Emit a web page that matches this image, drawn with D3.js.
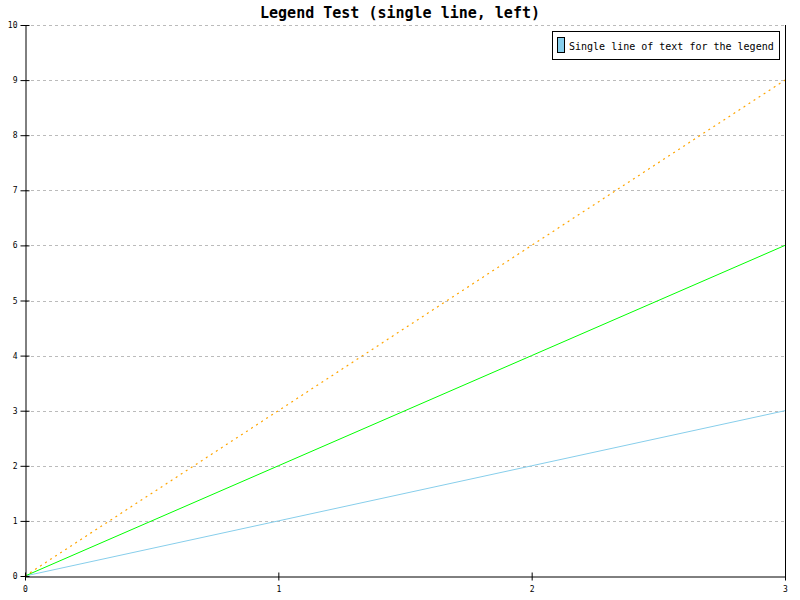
<!DOCTYPE html>
<html><head><meta charset="utf-8">
<script src="https://cdn.jsdelivr.net/npm/d3@7"></script>
<style>body{margin:0;background:#fff}svg{display:block}</style>
</head><body>
<svg id="c" width="800" height="600"></svg>
<script>
const xValues = [0, 1, 2, 3];
const seriesA = [0, 1, 2, 3];
const seriesB = [0, 2, 4, 6];
const seriesC = [0, 3, 6, 9];
const yTicks = [0,1,2,3,4,5,6,7,8,9,10];
const xTicks = [0,1,2,3];
const titleText = "Legend Test (single line, left)";
const legendText = "Single line of text for the legend";

const svg = d3.select("#c");
const font = "'DejaVu Sans Mono', monospace";
const x = d3.scaleLinear().domain([0,3]).range([25,785]);
const y = d3.scaleLinear().domain([0,10]).range([576,25]);

svg.append("rect").attr("width",800).attr("height",600).attr("fill","#fff");

// grid
svg.append("g").selectAll("line").data(yTicks.filter(d=>d>0)).join("line")
  .attr("x1",25).attr("x2",785).attr("y1",d=>Math.round(y(d))+0.5).attr("y2",d=>Math.round(y(d))+0.5)
  .attr("stroke","#bbb").attr("stroke-dasharray","3,3");

// lines
const line = d3.line().x((d,i)=>x(xValues[i])).y(d=>y(d));
svg.append("path").datum(seriesA).attr("d",line).attr("fill","none").attr("stroke","#87ceeb").attr("stroke-width",1);
svg.append("path").datum(seriesB).attr("d",line).attr("fill","none").attr("stroke","#00ff00").attr("stroke-width",1);
svg.append("path").datum(seriesC).attr("d",line).attr("fill","none").attr("stroke","#ffa500").attr("stroke-width",1.2).attr("stroke-dasharray","2,4");

// axes
const yAxis = d3.axisLeft(y).tickValues(yTicks).tickFormat(d3.format("d")).tickSizeInner(5).tickSizeOuter(0).tickPadding(3);
const gy = svg.append("g").attr("transform","translate(25.5,0)").call(yAxis);
gy.selectAll(".tick line").attr("x2",4).attr("x1",-5);
const xAxis = d3.axisBottom(x).tickValues(xTicks).tickFormat(d3.format("d")).tickSizeInner(4).tickSizeOuter(0).tickPadding(6);
const gx = svg.append("g").attr("transform","translate(0,576.5)").call(xAxis);
gx.selectAll(".tick line").attr("y1",-4).attr("y2",4);
[gx,gy].forEach(g=>{
  g.select(".domain").attr("stroke","#000");
  g.selectAll(".tick line").attr("stroke","#000");
  g.selectAll("text").attr("font-family",font).attr("font-size",8).attr("fill","#000");
});
svg.append("line").attr("x1",785.5).attr("x2",785.5).attr("y1",25).attr("y2",577).attr("stroke","#000");

// title
svg.append("text").attr("x",400).attr("y",18).attr("text-anchor","middle")
  .attr("font-family",font).attr("font-size",15).attr("font-weight","bold").text(titleText);

// legend
const lg = svg.append("g");
lg.append("rect").attr("x",552.5).attr("y",31.5).attr("width",227).attr("height",28).attr("fill","#fff").attr("stroke","#000");
lg.append("rect").attr("x",557.5).attr("y",37.5).attr("width",7).attr("height",15).attr("fill","#87ceeb").attr("stroke","#000");
lg.append("text").attr("x",569).attr("y",49.5).attr("font-family",font).attr("font-size",10).text(legendText);
</script>
</body></html>
